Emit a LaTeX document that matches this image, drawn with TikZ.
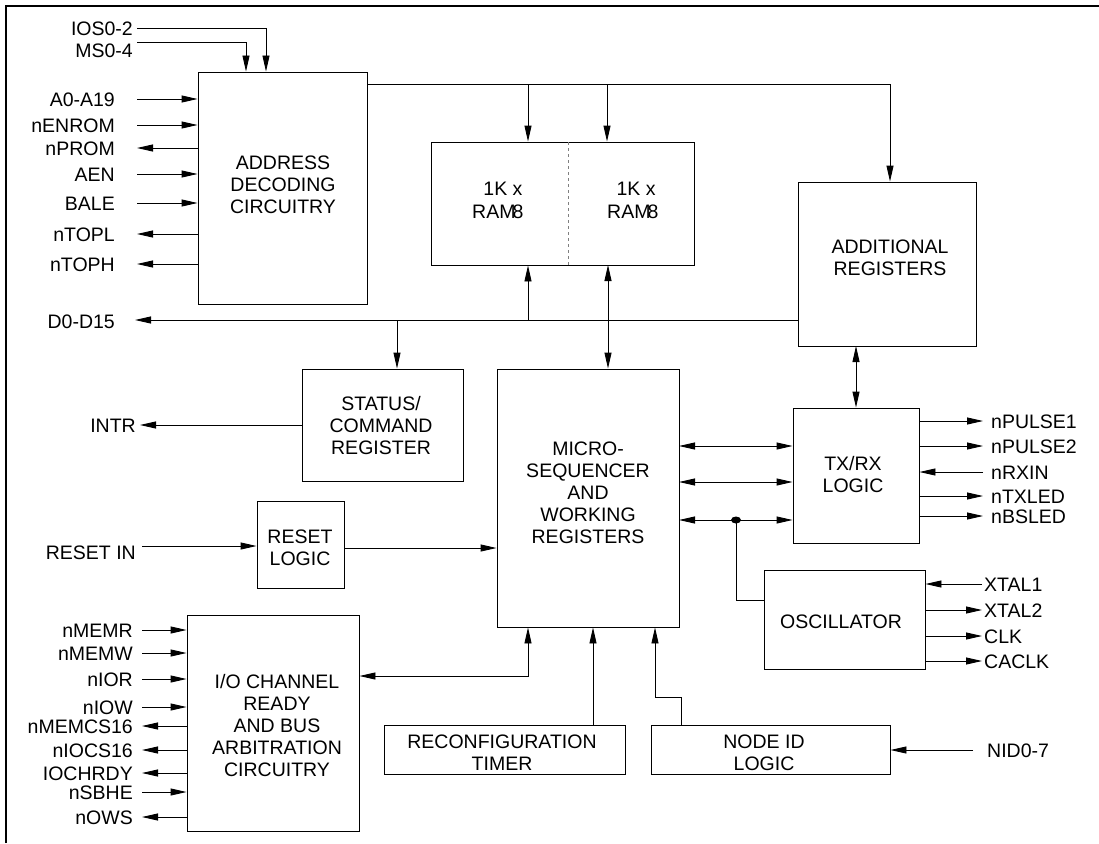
\documentclass[tikz,border=0pt]{standalone}
\usepackage{fontspec}
\setmainfont{Liberation Sans}
\usetikzlibrary{arrows.meta,fit}
\begin{document}
\begin{tikzpicture}[x=1pt,y=-1pt,
  every node/.style={font=\fontsize{19.5}{22}\selectfont},
  blk/.style={draw, line width=0.9pt, inner sep=0pt},
  btxt/.style={align=center, inner sep=0pt},
  lblL/.style={anchor=east, inner sep=0pt, text height=14pt, text depth=0pt},
  lblR/.style={anchor=west, inner sep=0pt, text height=14pt, text depth=0pt},
  wire/.style={line width=0.9pt},
  arr/.style={wire, -{Triangle[length=16pt,width=7pt]}},
  darr/.style={wire, {Triangle[length=16pt,width=7pt]}-{Triangle[length=16pt,width=7pt]}},
]
\useasboundingbox (0,0) rectangle (1099,843);
\draw[line width=2pt] (6,843) -- (6,6) -- (1099,6);

% blocks
\node[blk, fit={(198,72) (367,304)}] (ad) {};
\node[btxt] (adt) at (283,185) {ADDRESS\\DECODING\\CIRCUITRY};
\node[blk, fit={(431,142) (694,265)}] (ram) {};
\draw[line width=0.5pt, dashed, gray] (568,142) -- (568,265);
\node[inner sep=0pt] (r1a) at (503,189) {1K x};
\node[inner sep=0pt, anchor=west] (r1b) at (472,212) {RAM\kern-3pt 8};
\node[inner sep=0pt] (r2a) at (636,189) {1K x};
\node[inner sep=0pt, anchor=west] (r2b) at (607,212) {RAM\kern-3pt 8};
\node[blk, fit={(798,182) (976,346)}] (ar) {};
\node[btxt] (art) at (890,258) {ADDITIONAL\\REGISTERS};
\node[blk, fit={(302,369) (463,481)}] (sc) {};
\node[btxt] (sct) at (381,426) {STATUS/\\COMMAND\\REGISTER};
\node[blk, fit={(257,501) (344,588)}] (rl) {};
\node[btxt] (rlt) at (300,548) {RESET\\LOGIC};
\node[blk, fit={(497,369) (679,627)}] (ms) {};
\node[btxt] (mst) at (588,493) {MICRO-\\SEQUENCER\\AND\\WORKING\\REGISTERS};
\node[blk, fit={(793,408) (919,543)}] (tx) {};
\node[btxt] (txt) at (853,475) {TX/RX\\LOGIC};
\node[blk, fit={(764,570) (925,669)}] (os) {};
\node[btxt] (ost) at (841,622) {OSCILLATOR};
\node[blk, fit={(187,615) (359,831)}] (io) {};
\node[btxt] (iot) at (277,726) {I/O CHANNEL\\READY\\AND BUS\\ARBITRATION\\CIRCUITRY};
\node[blk, fit={(384,725) (625,774)}] (rt) {};
\node[btxt] (rtt) at (502,753) {RECONFIGURATION\\TIMER};
\node[blk, fit={(651,725) (890,774)}] (ni) {};
\node[btxt] (nit) at (764,753) {NODE ID\\LOGIC};

% IOS / MS
\node[lblL] (lios) at (133,29) {IOS0-2};
\node[lblL] (lms) at (133,50) {MS0-4};
\coordinate (pios) at (137,28);
\coordinate (pms) at (137,42);
\draw[arr] (pios) -- (266,28) -- (266,28 |- ad.north);
\draw[arr] (pms) -- (246,42) -- (246,42 |- ad.north);

% address decoding side signals
\foreach \y/\t/\n in {99/A0-A19/a, 125/nENROM/b, 174/AEN/c, 203/BALE/d}{
  \node[lblL] (l\n) at (115,\y) {\t};
  \coordinate (p\n) at (137,\y);
  \draw[arr] (p\n) -- (p\n -| ad.west);
}
\foreach \y/\t/\n in {148/nPROM/e, 234/nTOPL/f, 264/nTOPH/g}{
  \node[lblL] (l\n) at (115,\y) {\t};
  \coordinate (p\n) at (137,\y);
  \draw[arr] (p\n -| ad.west) -- (p\n);
}

% top bus
\coordinate (tb0) at (367,84);
\coordinate (tb1) at (528,84);
\coordinate (tb2) at (607,84);
\coordinate (tb3) at (890,84);
\draw[wire] (tb0) -- (tb3);
\draw[arr] (tb3) -- (ar.north -| tb3);
\draw[arr] (tb1) -- (tb1 |- ram.north);
\draw[arr] (tb2) -- (tb2 |- ram.north);

% data bus
\node[lblL] (ld) at (115,321) {D0-D15};
\coordinate (db0) at (135,320);
\coordinate (db1) at (397,320);
\coordinate (db2) at (528,320);
\draw[arr] (ar.west |- db0) -- (db0);
\draw[arr] (db1) -- (db1 |- sc.north);
\draw[arr] (db2) -- (db2 |- ram.south);
\coordinate (rm) at (608,265);
\draw[darr] (rm) -- (rm |- ms.north);
\coordinate (at) at (856,346);
\draw[darr] (at) -- (at |- tx.north);

% INTR / RESET
\node[lblL] (lintr) at (136,425) {INTR};
\coordinate (pintr) at (140,425);
\draw[arr] (sc.west |- pintr) -- (pintr);
\node[lblL] (lrst) at (136,552) {RESET IN};
\coordinate (prst) at (142,546);
\draw[arr] (prst) -- (prst -| rl.west);
\coordinate (prl) at (344,548);
\draw[arr] (prl) -- (prl -| ms.west);

% micro <-> tx/rx
\foreach \y/\n in {446/m1, 482/m2, 520/m3}{
  \coordinate (\n) at (679,\y);
  \draw[darr] (\n) -- (\n -| tx.west);
}
\coordinate (dot) at (736,520);
\fill (dot) ellipse [x radius=5pt, y radius=3.5pt];
\coordinate (dk) at (736,600);
\draw[wire] (dot) -- (dk) -- (dk -| os.west);

% tx/rx side signals
\foreach \y/\t/\n in {421/nPULSE1/t1, 446/nPULSE2/t2, 496/nTXLED/t4, 516/nBSLED/t5}{
  \node[lblR] (l\n) at (991,\y) {\t};
  \coordinate (p\n) at (983,\y);
  \draw[arr] (p\n -| tx.east) -- (p\n);
}
\node[lblR] (lt3) at (991,472) {nRXIN};
\coordinate (pt3) at (983,472);
\draw[arr] (pt3) -- (pt3 -| tx.east);

% oscillator side signals
\node[lblR] (lo1) at (984,584) {XTAL1};
\coordinate (po1) at (982,584);
\draw[arr] (po1) -- (po1 -| os.east);
\foreach \y/\t/\n in {610/XTAL2/o2, 636/CLK/o3, 661/CACLK/o4}{
  \node[lblR] (l\n) at (984,\y) {\t};
  \coordinate (p\n) at (982,\y);
  \draw[arr] (p\n -| os.east) -- (p\n);
}

% I/O channel side signals
\foreach \y/\t/\n in {630/nMEMR/i1, 653/nMEMW/i2, 679/nIOR/i3, 707/nIOW/i4, 792/nSBHE/i8}{
  \node[lblL] (l\n) at (133,\y) {\t};
  \coordinate (p\n) at (142,\y);
  \draw[arr] (p\n) -- (p\n -| io.west);
}
\foreach \y/\t/\n in {726/nMEMCS16/i5, 750/nIOCS16/i6, 773/IOCHRDY/i7, 817/nOWS/i9}{
  \node[lblL] (l\n) at (133,\y) {\t};
  \coordinate (p\n) at (142,\y);
  \draw[arr] (p\n -| io.west) -- (p\n);
}

% bottom connections
\coordinate (iom) at (528,676);
\draw[darr] (io.east |- iom) -- (iom) -- (iom |- ms.south);
\coordinate (rtm) at (593,725);
\draw[arr] (rtm) -- (rtm |- ms.south);
\coordinate (nk1) at (681,697);
\coordinate (nk2) at (655,697);
\draw[arr] (nk1 |- ni.north) -- (nk1) -- (nk2) -- (nk2 |- ms.south);
\node[lblR] (lnid) at (987,750) {NID0-7};
\coordinate (pnid) at (973,750);
\draw[arr] (pnid) -- (pnid -| ni.east);

\end{tikzpicture}
\end{document}
